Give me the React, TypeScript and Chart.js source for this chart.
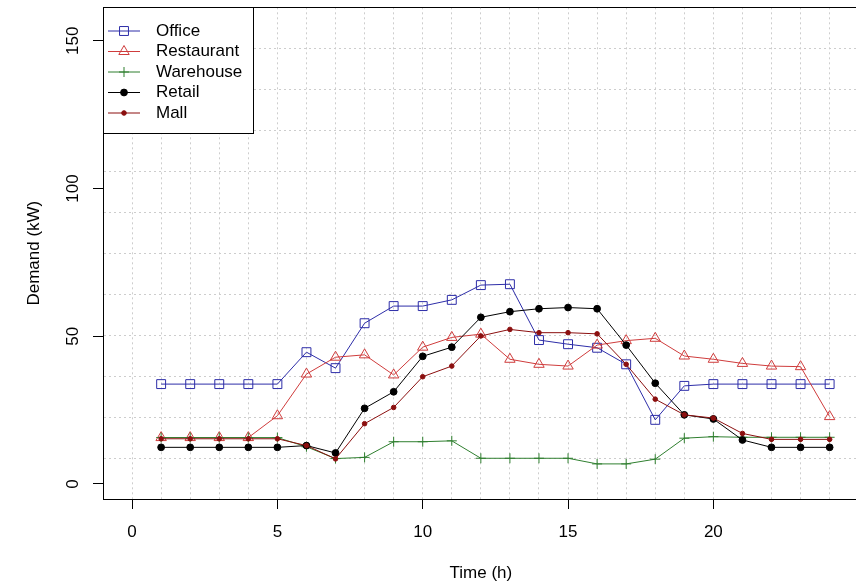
import React, { useEffect, useRef } from "react";
import { Chart, registerables } from "chart.js";
import { drawPoint } from "chart.js/helpers";

Chart.register(...registerables);

// ---- data ----
const hours = [1, 2, 3, 4, 5, 6, 7, 8, 9, 10, 11, 12, 13, 14, 15, 16, 17, 18, 19, 20, 21, 22, 23, 24];
const office = [33.8, 33.8, 33.8, 33.8, 33.8, 44.6, 39.2, 54.4, 60.2, 60.2, 62.3, 67.3, 67.6, 48.7, 47.3, 46.1, 40.5, 21.7, 33.2, 33.8, 33.8, 33.8, 33.8, 33.8];
const restaurant = [15.7, 15.7, 15.7, 15.7, 23.1, 37.2, 42.9, 43.7, 36.9, 46.3, 49.6, 50.7, 42.2, 40.5, 39.9, 47.0, 48.5, 49.3, 43.3, 42.2, 40.8, 39.9, 39.7, 22.8];
const warehouse = [15.7, 15.7, 15.7, 15.7, 15.7, 12.6, 8.6, 9.0, 14.3, 14.3, 14.6, 8.7, 8.7, 8.7, 8.7, 6.8, 6.8, 8.4, 15.5, 16.0, 15.8, 15.8, 15.8, 15.8];
const retail = [12.4, 12.4, 12.4, 12.4, 12.4, 13.0, 10.5, 25.6, 31.2, 43.2, 46.3, 56.4, 58.3, 59.3, 59.7, 59.3, 47.0, 34.1, 23.4, 22.0, 14.9, 12.4, 12.4, 12.4];
const mall = [15.3, 15.3, 15.3, 15.3, 15.3, 13.0, 8.5, 20.4, 25.9, 36.3, 39.9, 50.1, 52.3, 51.2, 51.2, 50.8, 40.5, 28.7, 23.4, 22.3, 17.1, 15.1, 15.1, 15.1];
const seriesNames = ["Office", "Restaurant", "Warehouse", "Retail", "Mall"];
const xTickValues = [0, 5, 10, 15, 20];
const yTickValues = [0, 50, 100, 150];

// ---- layout / style ----
const X_MIN = -1;
const X_MAX = 25;
const Y_MIN = -5.08;
const Y_MAX = 161.3;
const W = 866;
const H = 582;
const FONT = "'Liberation Sans', Arimo, Arial, sans-serif";
const GRID = "#cdcdcd";
const CLEAR = "rgba(0,0,0,0)";

const seriesStyles = [
  { color: "#2d2da8", pointStyle: "rect", radius: 6.3, fill: CLEAR },
  { color: "#cf3c3c", pointStyle: "triangle", radius: 6, fill: CLEAR },
  { color: "#2f7f2f", pointStyle: "cross", radius: 5, fill: CLEAR },
  { color: "#000000", pointStyle: "circle", radius: 3.4, fill: "#000000" },
  { color: "#8b0f0f", pointStyle: "circle", radius: 2.3, fill: "#8b0f0f" },
];

const seriesValues = [office, restaurant, warehouse, retail, mall];

const xGrid = Array.from({ length: 25 }, (_, i) => i);
const yGrid = Array.from({ length: 11 }, (_, k) => Y_MIN + ((k + 1) * (Y_MAX - Y_MIN)) / 12);

const boxPlugin = {
  id: "rBox",
  afterDatasetsDraw(chart: any) {
    const { ctx, chartArea: a } = chart;
    ctx.save();
    ctx.strokeStyle = "#000";
    ctx.lineWidth = 1;
    ctx.beginPath();
    const y = Math.round(a.top) + 0.5;
    ctx.moveTo(a.left, y);
    ctx.lineTo(a.right, y);
    ctx.stroke();
    ctx.restore();
  },
};

const legendPlugin = {
  id: "rLegend",
  afterDraw(chart: any) {
    const { ctx, chartArea: a } = chart;
    const left = Math.round(a.left) + 0.5;
    const top = Math.round(a.top) + 0.5;
    ctx.save();
    ctx.fillStyle = "#fff";
    ctx.fillRect(left, top, 150, 126);
    ctx.strokeStyle = "#000";
    ctx.lineWidth = 1;
    ctx.strokeRect(left, top, 150, 126);
    seriesNames.forEach((name, i) => {
      const s = seriesStyles[i];
      const y = a.top + 23.7 + i * 20.5;
      ctx.strokeStyle = s.color;
      ctx.lineWidth = 1;
      ctx.beginPath();
      ctx.moveTo(a.left + 5, y);
      ctx.lineTo(a.left + 37, y);
      ctx.stroke();
      ctx.fillStyle = s.fill;
      drawPoint(ctx, { pointStyle: s.pointStyle as any, radius: s.radius, borderWidth: 1, rotation: 0 } as any, a.left + 21, y);
      ctx.fillStyle = "#000";
      ctx.font = `17px ${FONT}`;
      ctx.textBaseline = "middle";
      ctx.textAlign = "left";
      ctx.fillText(name, a.left + 53, y);
    });
    ctx.restore();
  },
};

export default function App() {
  const ref = useRef<HTMLCanvasElement>(null);

  useEffect(() => {
    if (!ref.current) return;
    const chart = new Chart(ref.current, {
      type: "line",
      data: {
        datasets: seriesValues.map((vals, i) => {
          const s = seriesStyles[i];
          return {
            label: seriesNames[i],
            data: hours.map((h, j) => ({ x: h, y: vals[j] })),
            borderColor: s.color,
            backgroundColor: s.fill,
            borderWidth: 1,
            pointStyle: s.pointStyle as any,
            pointRadius: s.radius,
            pointBorderColor: s.color,
            pointBackgroundColor: s.fill,
            pointBorderWidth: 1,
            tension: 0,
            fill: false,
            order: 5 - i,
          };
        }),
      },
      options: {
        responsive: false,
        animation: false,
        events: [],
        layout: { padding: { top: 7, left: 0, right: 0, bottom: 0 } },
        plugins: { legend: { display: false }, tooltip: { enabled: false } },
        scales: {
          x: {
            type: "linear",
            min: X_MIN,
            max: X_MAX,
            afterBuildTicks: (s: any) => {
              s.ticks = xGrid.map((v) => ({ value: v }));
            },
            afterFit: (s: any) => {
              s.height = H - 499;
              s.paddingLeft = 0;
              s.paddingRight = 0;
            },
            ticks: {
              autoSkip: false,
              maxRotation: 0,
              minRotation: 0,
              padding: 13,
              color: "#000",
              font: { family: FONT, size: 17 },
              callback: (v: any) => (xTickValues.includes(v) ? String(v) : ""),
            },
            grid: {
              color: GRID,
              lineWidth: 1,
              tickLength: 10,
              tickWidth: 1,
              tickColor: (c: any) => (xTickValues.includes(c.tick?.value) ? "#000" : CLEAR),
              tickBorderDash: [],
            },
            border: { display: true, color: "#000", width: 1, dash: [2, 3] },
            title: {
              display: true,
              text: "Time (h)",
              color: "#000",
              font: { family: FONT, size: 17, lineHeight: 1 },
              padding: { top: 0, bottom: 0.5 },
            },
          },
          y: {
            type: "linear",
            min: Y_MIN,
            max: Y_MAX,
            afterBuildTicks: (s: any) => {
              s.ticks = [...yTickValues, ...yGrid].sort((a, b) => a - b).map((v) => ({ value: v }));
            },
            afterFit: (s: any) => {
              s.width = 103;
              s.paddingTop = 0;
              s.paddingBottom = 0;
            },
            ticks: {
              autoSkip: false,
              minRotation: 90,
              maxRotation: 90,
              crossAlign: "center",
              padding: 6,
              color: "#000",
              font: { family: FONT, size: 17 },
              callback: (v: any) => (yTickValues.includes(v) ? String(v) : ""),
            },
            grid: {
              color: (c: any) => (yTickValues.includes(c.tick?.value) ? CLEAR : GRID),
              lineWidth: 1,
              tickLength: 10,
              tickWidth: 1,
              tickColor: (c: any) => (yTickValues.includes(c.tick?.value) ? "#000" : CLEAR),
              tickBorderDash: [],
            },
            border: { display: true, color: "#000", width: 1, dash: [2, 3] },
            title: {
              display: true,
              text: "Demand (kW)",
              color: "#000",
              font: { family: FONT, size: 17, lineHeight: 1 },
              padding: { top: 25.5, bottom: 0 },
            },
          },
        },
      },
      plugins: [boxPlugin, legendPlugin],
    } as any);
    return () => chart.destroy();
  }, []);

  return (
    <div
      style={{
        position: "fixed",
        left: 0,
        top: 0,
        width: 856,
        height: 582,
        overflow: "hidden",
        background: "#fff",
      }}
    >
      <canvas ref={ref} width={W} height={H} style={{ display: "block", width: W, height: H }} />
    </div>
  );
}
